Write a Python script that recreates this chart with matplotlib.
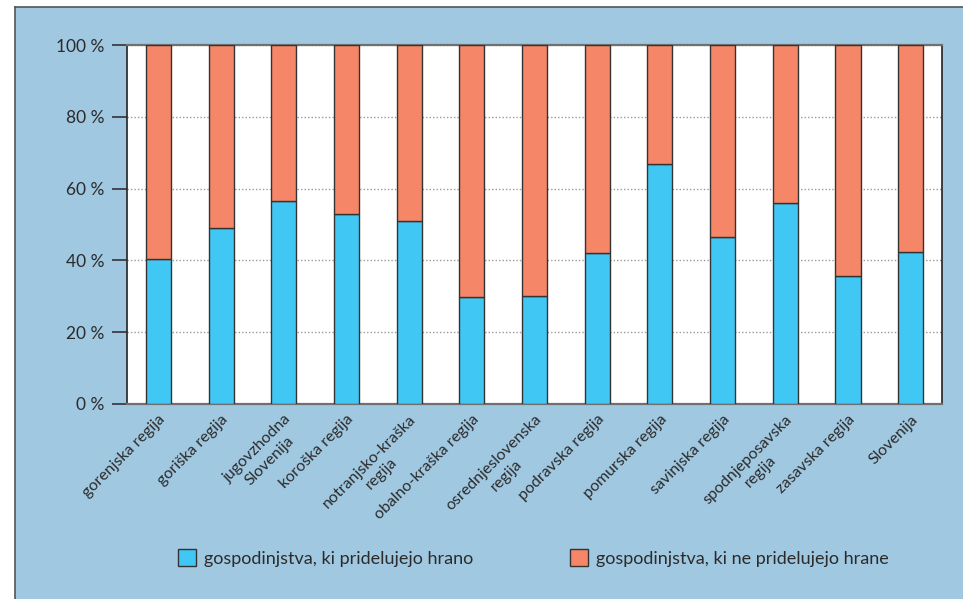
import matplotlib.pyplot as plt
from matplotlib.patches import Patch, Rectangle
from matplotlib.lines import Line2D

regions = [
    "gorenjska regija", "goriška regija", "jugovzhodna\nSlovenija",
    "koroška regija", "notranjsko-kraška\nregija", "obalno-kraška regija",
    "osrednjeslovenska\nregija", "podravska regija", "pomurska regija",
    "savinjska regija", "spodnjeposavska\nregija", "zasavska regija",
    "Slovenija",
]
grow_food = [40.4, 49.0, 56.5, 52.9, 51.0, 29.8, 30.1, 42.1, 66.9, 46.5, 56.0, 35.7, 42.3]
no_food = [100 - v for v in grow_food]
yticks = [0, 20, 40, 60, 80, 100]
legend_labels = ["gospodinjstva, ki pridelujejo hrano",
                 "gospodinjstva, ki ne pridelujejo hrane"]

BLUE = "#41c7f3"
ORANGE = "#f58667"
PANEL = "#a1c8e1"
TEXT = "#2b2b2b"

plt.rcParams["font.family"] = ["Lato", "DejaVu Sans"]

W, H = 963, 599
fig = plt.figure(figsize=(W / 100, H / 100), dpi=100, facecolor="white")

# light blue panel with a thin dark border on the left and top
fig.patches.append(Rectangle((15 / W, 0), 1, 1 - 7 / H, transform=fig.transFigure,
                             facecolor=PANEL, edgecolor="none", zorder=-10))
fig.lines.append(Line2D([15 / W, 15 / W], [0, 1 - 7 / H], transform=fig.transFigure,
                        color="#555555", lw=1.2, zorder=-5))
fig.lines.append(Line2D([15 / W, 1], [1 - 7 / H, 1 - 7 / H], transform=fig.transFigure,
                        color="#555555", lw=1.2, zorder=-5))

ax = fig.add_axes([127 / W, 1 - 404 / H, (942 - 127) / W, (404 - 45) / H])
ax.set_facecolor("white")

x = range(len(regions))
ax.bar(x, grow_food, width=0.4, color=BLUE, edgecolor="#333333", linewidth=1, zorder=3)
ax.bar(x, no_food, bottom=grow_food, width=0.4, color=ORANGE, edgecolor="#333333",
       linewidth=1, zorder=3)

ax.set_xlim(-0.5, len(regions) - 0.5)
ax.set_ylim(0, 100)
ax.set_yticks(yticks)
ax.set_yticklabels([f"{v} %" for v in yticks], fontsize=12.5, color=TEXT)
ax.yaxis.grid(True, linestyle=(0, (1, 1.5)), color="#9a9a9a", lw=1, zorder=1)
ax.tick_params(axis="y", length=11, width=1.2, color="#333333", pad=5)

ax.set_xticks(list(x))
ax.set_xticklabels(regions, rotation=45, ha="right", va="top", rotation_mode="anchor",
                   multialignment="center", fontsize=11.5, color=TEXT, linespacing=1.3)
ax.tick_params(axis="x", length=0, pad=6)

for side in ["top", "bottom"]:
    ax.spines[side].set_color("#707070")
    ax.spines[side].set_linewidth(1.6)
for side in ["left", "right"]:
    ax.spines[side].set_color("#222222")
    ax.spines[side].set_linewidth(1.2)

# legend, two entries placed separately like the reference
for color, label, xpos in [(BLUE, legend_labels[0], 178), (ORANGE, legend_labels[1], 570)]:
    fig.legend(handles=[Patch(facecolor=color, edgecolor="#333333", lw=1)], labels=[label],
               loc="center left", bbox_to_anchor=(xpos / W, 1 - 558 / H),
               frameon=False, fontsize=13, handlelength=1.0, handleheight=1.0,
               handletextpad=0.45, borderpad=0, borderaxespad=0, labelcolor=TEXT)

fig.savefig("out.png", dpi=100, facecolor="white")
